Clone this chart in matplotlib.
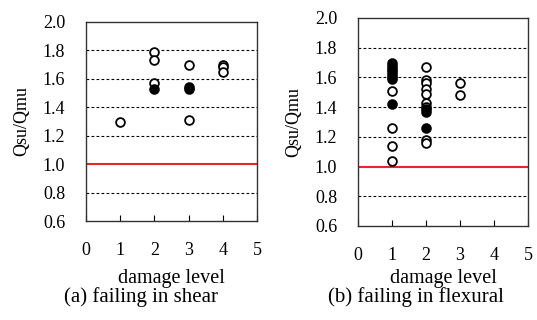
import matplotlib.pyplot as plt

plt.rcParams['font.family'] = ['Liberation Serif', 'DejaVu Serif']

# (a) failing in shear
shear_open_x = [1, 2, 2, 2, 3, 3, 4, 4, 4]
shear_open_y = [1.30, 1.79, 1.73, 1.57, 1.70, 1.31, 1.70, 1.68, 1.65]
shear_fill_x = [2, 3, 3]
shear_fill_y = [1.53, 1.54, 1.53]

# (b) failing in flexural
flex_open_x = [1, 1, 1, 1, 2, 2, 2, 2, 2, 2, 2, 2, 2, 3, 3]
flex_open_y = [1.51, 1.26, 1.14, 1.04, 1.67, 1.58, 1.56, 1.52, 1.49, 1.43, 1.40, 1.18, 1.16, 1.56, 1.48]
flex_fill_x = [1, 1, 1, 1, 1, 1, 1, 1, 2, 2, 2]
flex_fill_y = [1.70, 1.68, 1.66, 1.64, 1.62, 1.60, 1.59, 1.42, 1.39, 1.37, 1.26]

grid_levels = [0.8, 1.2, 1.4, 1.6, 1.8]
yticks = [0.6, 0.8, 1.0, 1.2, 1.4, 1.6, 1.8, 2.0]
xticks = [0, 1, 2, 3, 4, 5]

fig = plt.figure(figsize=(5.37, 3.2), dpi=100)
W, H = 537, 320
ax1 = fig.add_axes([86 / W, 1 - 221 / H, 171 / W, 199 / H])
ax2 = fig.add_axes([358 / W, 1 - 226 / H, 170 / W, 208 / H])


def style(ax, ox, oy, fx, fy, xpad):
    for g in grid_levels:
        ax.axhline(g, color='black', lw=0.8, ls=(0, (2.5, 2)), zorder=1)
    ax.axhline(1.0, color='#e8262a', lw=1.5, zorder=2)
    ax.plot(ox, oy, 'o', ms=6.3, mfc='white', mec='black', mew=1.3, zorder=3)
    ax.plot(fx, fy, 'o', ms=6.3, mfc='black', mec='black', mew=1.3, zorder=4)
    ax.set_xlim(0, 5)
    ax.set_ylim(0.6, 2.0)
    ax.set_xticks(xticks)
    ax.set_yticks(yticks)
    ax.set_yticklabels([f'{v:.1f}' for v in yticks])
    ax.tick_params(axis='x', direction='in', length=4, pad=15, labelsize=13)
    ax.tick_params(axis='y', direction='in', length=0, pad=15, labelsize=13)
    for s in ax.spines.values():
        s.set_linewidth(1.0)
        s.set_color('#333333')
    ax.set_xlabel('damage level', fontsize=14.5, labelpad=xpad)
    ax.set_ylabel('Qsu/Qmu', fontsize=13, labelpad=9)


style(ax1, shear_open_x, shear_open_y, shear_fill_x, shear_fill_y, 7)
style(ax2, flex_open_x, flex_open_y, flex_fill_x, flex_fill_y, 4)

fig.text(141 / W, 1 - 297 / H, '(a) failing in shear', ha='center', va='center', fontsize=15)
fig.text(416 / W, 1 - 297 / H, '(b) failing in flexural', ha='center', va='center', fontsize=15)

fig.savefig('out.png', dpi=100)
